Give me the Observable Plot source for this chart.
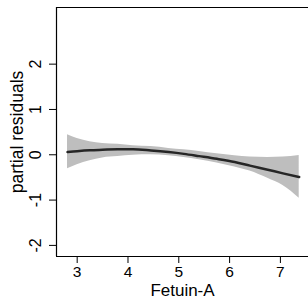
<!DOCTYPE html>
<html>
<head>
<meta charset="utf-8">
<script src="https://cdn.jsdelivr.net/npm/d3@7"></script>
<script src="https://cdn.jsdelivr.net/npm/@observablehq/plot@0.6"></script>
<style>
html, body { margin: 0; padding: 0; background: #fff; }
</style>
</head>
<body>
<div id="chart"></div>
<script>
const xs    = [2.81, 3.0, 3.25, 3.5, 3.8, 4.1, 4.45, 4.8, 5.1, 5.4, 5.75, 6.1, 6.4, 6.75, 7.05, 7.37];
const fit   = [0.06, 0.08, 0.10, 0.11, 0.12, 0.12, 0.095, 0.06, 0.02, -0.03, -0.09, -0.16, -0.24, -0.33, -0.41, -0.49];
const upper = [0.44, 0.36, 0.29, 0.25, 0.23, 0.20, 0.18, 0.14, 0.11, 0.07, 0.02, -0.02, -0.05, -0.06, -0.05, -0.015];
const lower = [-0.31, -0.22, -0.13, -0.07, -0.04, -0.01, 0.0, -0.02, -0.06, -0.11, -0.18, -0.27, -0.36, -0.52, -0.68, -0.96];
const xTicks = [3, 4, 5, 6, 7];
const yTicks = [-2, -1, 0, 1, 2];
const xDomain = [2.593, 7.553];
const yDomain = [-2.245, 3.25];
const xLabel = "Fetuin-A";
const yLabel = "partial residuals";

const data = xs.map((x, i) => ({x, fit: fit[i], hi: upper[i], lo: lower[i]}));

const chart = Plot.plot({
  width: 308,
  height: 303,
  marginLeft: 56,
  marginRight: 0,
  marginTop: 7,
  marginBottom: 47,
  style: {fontFamily: "'Liberation Sans', Arial, Helvetica, sans-serif", fontSize: "16px", color: "black", background: "white"},
  x: {domain: xDomain},
  y: {domain: yDomain},
  marks: [
    Plot.areaY(data, {x: "x", y1: "lo", y2: "hi", fill: "#bebebe", curve: "monotone-x"}),
    Plot.line(data, {x: "x", y: "fit", stroke: "#262626", strokeWidth: 2.5, curve: "monotone-x"}),
    Plot.ruleX([xDomain[0]], {stroke: "black", strokeWidth: 1.2}),
    Plot.ruleY(yDomain, {stroke: "black", strokeWidth: 1.2}),
    Plot.axisX({ticks: xTicks, tickSize: 7, tickPadding: 2.5, tickFormat: d => String(d), label: null, fontSize: 15.5}),
    Plot.axisY({ticks: yTicks, tickSize: 7, tickFormat: () => "", label: null}),
    Plot.text(yTicks, {y: d => d, frameAnchor: "left", dx: -21, rotate: -90, textAnchor: "middle", lineAnchor: "middle", text: d => String(d), fontSize: 16, fill: "black"}),
    Plot.text([xLabel], {frameAnchor: "bottom", dy: 39.5, text: d => d, fontSize: 17, fill: "black"}),
    Plot.text([yLabel], {frameAnchor: "left", dx: -39, rotate: -90, textAnchor: "middle", text: d => d, fontSize: 17.5, fill: "black"})
  ]
});
document.getElementById("chart").appendChild(chart);
</script>
</body>
</html>
